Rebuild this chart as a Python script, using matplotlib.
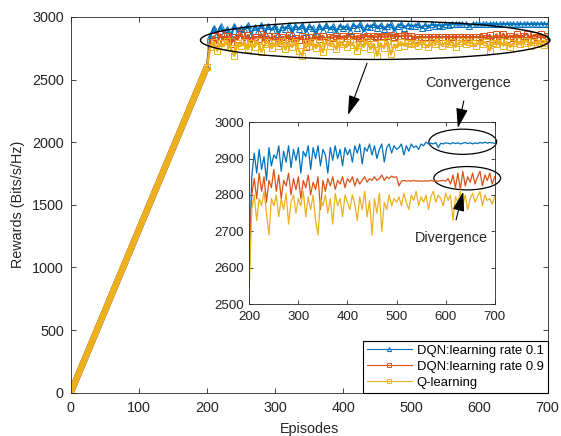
import matplotlib
matplotlib.use("Agg")
import matplotlib.pyplot as plt
from matplotlib.patches import Ellipse

plt.rcParams['font.family'] = ['Liberation Sans', 'DejaVu Sans']

# shared linear rise, episodes 0..200
ramp_ep = [0, 5, 10, 15, 20, 25, 30, 35, 40, 45, 50, 55, 60, 65, 70, 75, 80, 85, 90, 95, 100,
           105, 110, 115, 120, 125, 130, 135, 140, 145, 150, 155, 160, 165, 170, 175, 180, 185, 190, 195, 200]
ramp_val = [0, 65, 130, 195, 260, 325, 390, 455, 520, 585, 650, 715, 780, 845, 910, 975, 1040, 1105,
            1170, 1235, 1300, 1365, 1430, 1495, 1560, 1625, 1690, 1755, 1820, 1885, 1950, 2015, 2080,
            2145, 2210, 2275, 2340, 2405, 2470, 2535, 2600]

# plateau, episodes 205..700 every 5
plat_ep = list(range(205, 701, 5))

dqn_01 = [2850, 2915, 2860, 2925, 2870, 2905, 2840, 2930, 2880, 2910,
          2900, 2935, 2865, 2920, 2890, 2935, 2875, 2925, 2895, 2930,
          2860, 2920, 2905, 2935, 2870, 2930, 2900, 2935, 2880, 2925,
          2910, 2860, 2930, 2895, 2935, 2900, 2925, 2880, 2930, 2910,
          2925, 2890, 2935, 2915, 2940, 2885, 2930, 2920, 2940, 2910,
          2935, 2900, 2925, 2940, 2890, 2930, 2940, 2915, 2935, 2925,
          2930, 2940, 2910, 2935, 2920, 2940, 2930, 2935, 2925, 2940,
          2935, 2945, 2940, 2942, 2940, 2944, 2930, 2942, 2940, 2943,
          2942, 2940, 2944, 2941, 2943, 2940, 2942, 2944, 2941, 2943,
          2940, 2943, 2941, 2944, 2942, 2945, 2942, 2944, 2943, 2942]

dqn_09 = [2800, 2845, 2790, 2860, 2810, 2850, 2780, 2840, 2820, 2870,
          2810, 2855, 2790, 2840, 2825, 2860, 2800, 2845, 2815, 2850,
          2790, 2840, 2820, 2855, 2800, 2835, 2815, 2850, 2760, 2840,
          2810, 2845, 2825, 2850, 2815, 2840, 2830, 2850, 2820, 2845,
          2835, 2850, 2825, 2845, 2830, 2840, 2850, 2835, 2845, 2840,
          2850, 2840, 2845, 2855, 2840, 2850, 2845, 2852, 2848, 2850,
          2825, 2838, 2840, 2838, 2839, 2838, 2840, 2838, 2839, 2838,
          2838, 2839, 2838, 2840, 2838, 2839, 2838, 2839, 2840, 2838,
          2845, 2830, 2855, 2820, 2860, 2815, 2865, 2825, 2850, 2835,
          2860, 2830, 2850, 2865, 2825, 2855, 2840, 2860, 2830, 2850]

q_learn = [2760, 2800, 2730, 2790, 2770, 2810, 2750, 2690, 2790, 2770,
           2800, 2740, 2790, 2760, 2805, 2720, 2780, 2800, 2750, 2790,
           2770, 2810, 2740, 2795, 2760, 2800, 2730, 2690, 2790, 2770,
           2800, 2750, 2790, 2720, 2805, 2770, 2790, 2740, 2800, 2780,
           2760, 2800, 2775, 2730, 2795, 2760, 2810, 2740, 2785, 2690,
           2790, 2750, 2805, 2700, 2780, 2760, 2800, 2770, 2790, 2780,
           2795, 2770, 2805, 2780, 2760, 2800, 2785, 2810, 2770, 2795,
           2780, 2800, 2760, 2795, 2810, 2780, 2800, 2790, 2770, 2805,
           2785, 2800, 2730, 2795, 2780, 2810, 2770, 2800, 2760, 2790,
           2805, 2780, 2795, 2810, 2770, 2800, 2785, 2790, 2775, 2795]

# value each series has at episode 200 (inset start)
start_200 = [2600, 2630, 2545]

labels = ["DQN:learning rate 0.1", "DQN:learning rate 0.9", "Q-learning"]
colors = ["#0072BD", "#D95319", "#EDB120"]
markers = ["^", "s", "s"]
series = [dqn_01, dqn_09, q_learn]

fig = plt.figure(figsize=(5.61, 4.36), dpi=100)
ax = fig.add_axes([0.126, 0.0993, 0.850, 0.862])

for vals, c, m, lab in zip(series, colors, markers, labels):
    ax.plot(ramp_ep, ramp_val, color=c, lw=4.5, solid_capstyle='butt')
    ax.plot([ramp_ep[-1]] + plat_ep, [ramp_val[-1]] + vals, color=c, lw=1.6,
            marker=m, ms=4, mfc='none', mew=0.7, label=lab)

ax.set_xlim(0, 700)
ax.set_ylim(0, 3000)
ax.set_xticks(range(0, 701, 100))
ax.set_yticks(range(0, 3001, 500))
ax.tick_params(direction='in', top=True, right=True, length=3.5, width=0.6,
               labelsize=10.4, colors='0.15')
ax.tick_params(axis='x', pad=6)
ax.tick_params(axis='y', pad=5)
for s in ax.spines.values():
    s.set_linewidth(0.6)
    s.set_color('0.15')
ax.set_xlabel("Episodes", fontsize=10.4, color='0.15', labelpad=5)
ax.set_ylabel("Rewards (Bits/s/Hz)", fontsize=10.4, color='0.15', labelpad=5)

leg = ax.legend(loc='lower right', borderaxespad=0, fontsize=9.4, fancybox=False,
                framealpha=1, edgecolor='k', handlelength=3.4, labelspacing=0.3,
                borderpad=0.3, handletextpad=0.4, numpoints=1)
leg.get_frame().set_linewidth(0.8)
for h in leg.legend_handles:
    h.set_linewidth(0.8)
    h.set_markersize(3)

ax.add_patch(Ellipse((447, 2814), 513, 308, fill=False, ec='k', lw=1.0, clip_on=False, zorder=5))
ax.annotate("", xy=(407, 2216), xytext=(435, 2630),
            arrowprops=dict(arrowstyle='-|>,head_length=1.0,head_width=0.3', color='k',
                            lw=0.8, mutation_scale=12, shrinkA=0, shrinkB=0))

# inset
ax_in = fig.add_axes([0.4444, 0.302, 0.4374, 0.418])
for vals, c, s0 in zip(series, colors, start_200):
    ax_in.plot([200] + plat_ep, [s0] + vals, color=c, lw=0.9)
ax_in.set_xlim(200, 700)
ax_in.set_ylim(2500, 3000)
ax_in.set_xticks(range(200, 701, 100))
ax_in.set_yticks(range(2500, 3001, 100))
ax_in.tick_params(direction='in', top=True, right=True, length=3, width=0.6,
                  labelsize=9.6, colors='0.15')
ax_in.tick_params(axis='x', pad=5)
ax_in.tick_params(axis='y', pad=4)
for s in ax_in.spines.values():
    s.set_linewidth(0.6)
    s.set_color('0.15')

ax_in.add_patch(Ellipse((635, 2946), 138, 69, fill=False, ec='k', lw=0.9, clip_on=False))
ax_in.add_patch(Ellipse((644, 2846), 136, 64, fill=False, ec='k', lw=0.9, clip_on=False))

arrow_style = dict(arrowstyle='-|>,head_length=1.0,head_width=0.3', color='k',
                   lw=0.8, mutation_scale=12, shrinkA=6, shrinkB=0)
ax_in.annotate("Convergence", xy=(625, 2984), xytext=(645, 3107), ha='center', va='center',
               fontsize=10.4, color='0.15', annotation_clip=False, arrowprops=arrow_style)
ax_in.annotate("Divergence", xy=(636, 2809), xytext=(612, 2683), ha='center', va='center',
               fontsize=10.4, color='0.15', annotation_clip=False, arrowprops=arrow_style)

fig.savefig("out.png", dpi=100)
